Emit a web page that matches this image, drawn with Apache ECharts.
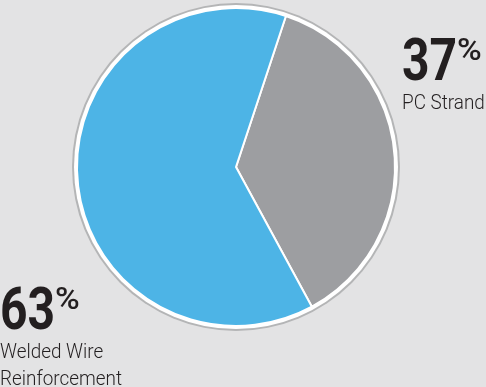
<!DOCTYPE html>
<html>
<head>
<meta charset="utf-8">
<script src="https://cdn.jsdelivr.net/npm/echarts@6/dist/echarts.min.js"></script>
<style>
  html, body { margin: 0; padding: 0; background: #e3e3e4; }
  #chart { width: 486px; height: 387px; }
</style>
</head>
<body>
<div id="chart"></div>
<script>
// Share of product lines
const categories = ['PC Strand', 'Welded Wire\nReinforcement'];
const values = [37, 63];
const colors = ['#9d9ea1', '#4db4e6'];

const chart = echarts.init(document.getElementById('chart'));
const cx = 236, cy = 167;

function pctLabel(idx, x, y, subLines) {
  return {
    type: 'group',
    x: x, y: y,
    children: [
      {
        type: 'text', x: 0, y: 0, scaleX: 0.8,
        style: { text: String(values[idx]), font: 'bold 60px Roboto', fill: '#231f20', textVerticalAlign: 'top' }
      },
      {
        type: 'text', x: 55, y: 1, scaleX: 1.05,
        style: { text: '%', font: '500 32px Roboto', fill: '#231f20', textVerticalAlign: 'top' }
      },
      {
        type: 'text', x: 0, y: 55, scaleX: 0.9,
        style: { text: subLines, font: '300 21px Roboto', fill: '#231f20', lineHeight: 27, textVerticalAlign: 'top' }
      }
    ]
  };
}

chart.setOption({
  backgroundColor: '#e3e3e4',
  animation: false,
  series: [
    {
      type: 'pie', silent: true, center: [cx, cy], radius: [0, 164],
      label: { show: false }, labelLine: { show: false },
      data: [{ value: 1, itemStyle: { color: '#b4b5b6' } }]
    },
    {
      type: 'pie', silent: true, center: [cx, cy], radius: [0, 162],
      label: { show: false }, labelLine: { show: false },
      data: [{ value: 1, itemStyle: { color: '#ffffff' } }]
    },
    {
      type: 'pie', center: [cx, cy], radius: [0, 159],
      startAngle: 71.7, clockwise: true,
      label: { show: false }, labelLine: { show: false },
      itemStyle: { borderColor: '#ffffff', borderWidth: 2 },
      data: categories.map((c, i) => ({ name: c, value: values[i], itemStyle: { color: colors[i] } }))
    }
  ],
  graphic: [
    pctLabel(0, 402, 35, categories[0]),
    pctLabel(1, 0, 284, categories[1])
  ]
});
</script>
</body>
</html>
